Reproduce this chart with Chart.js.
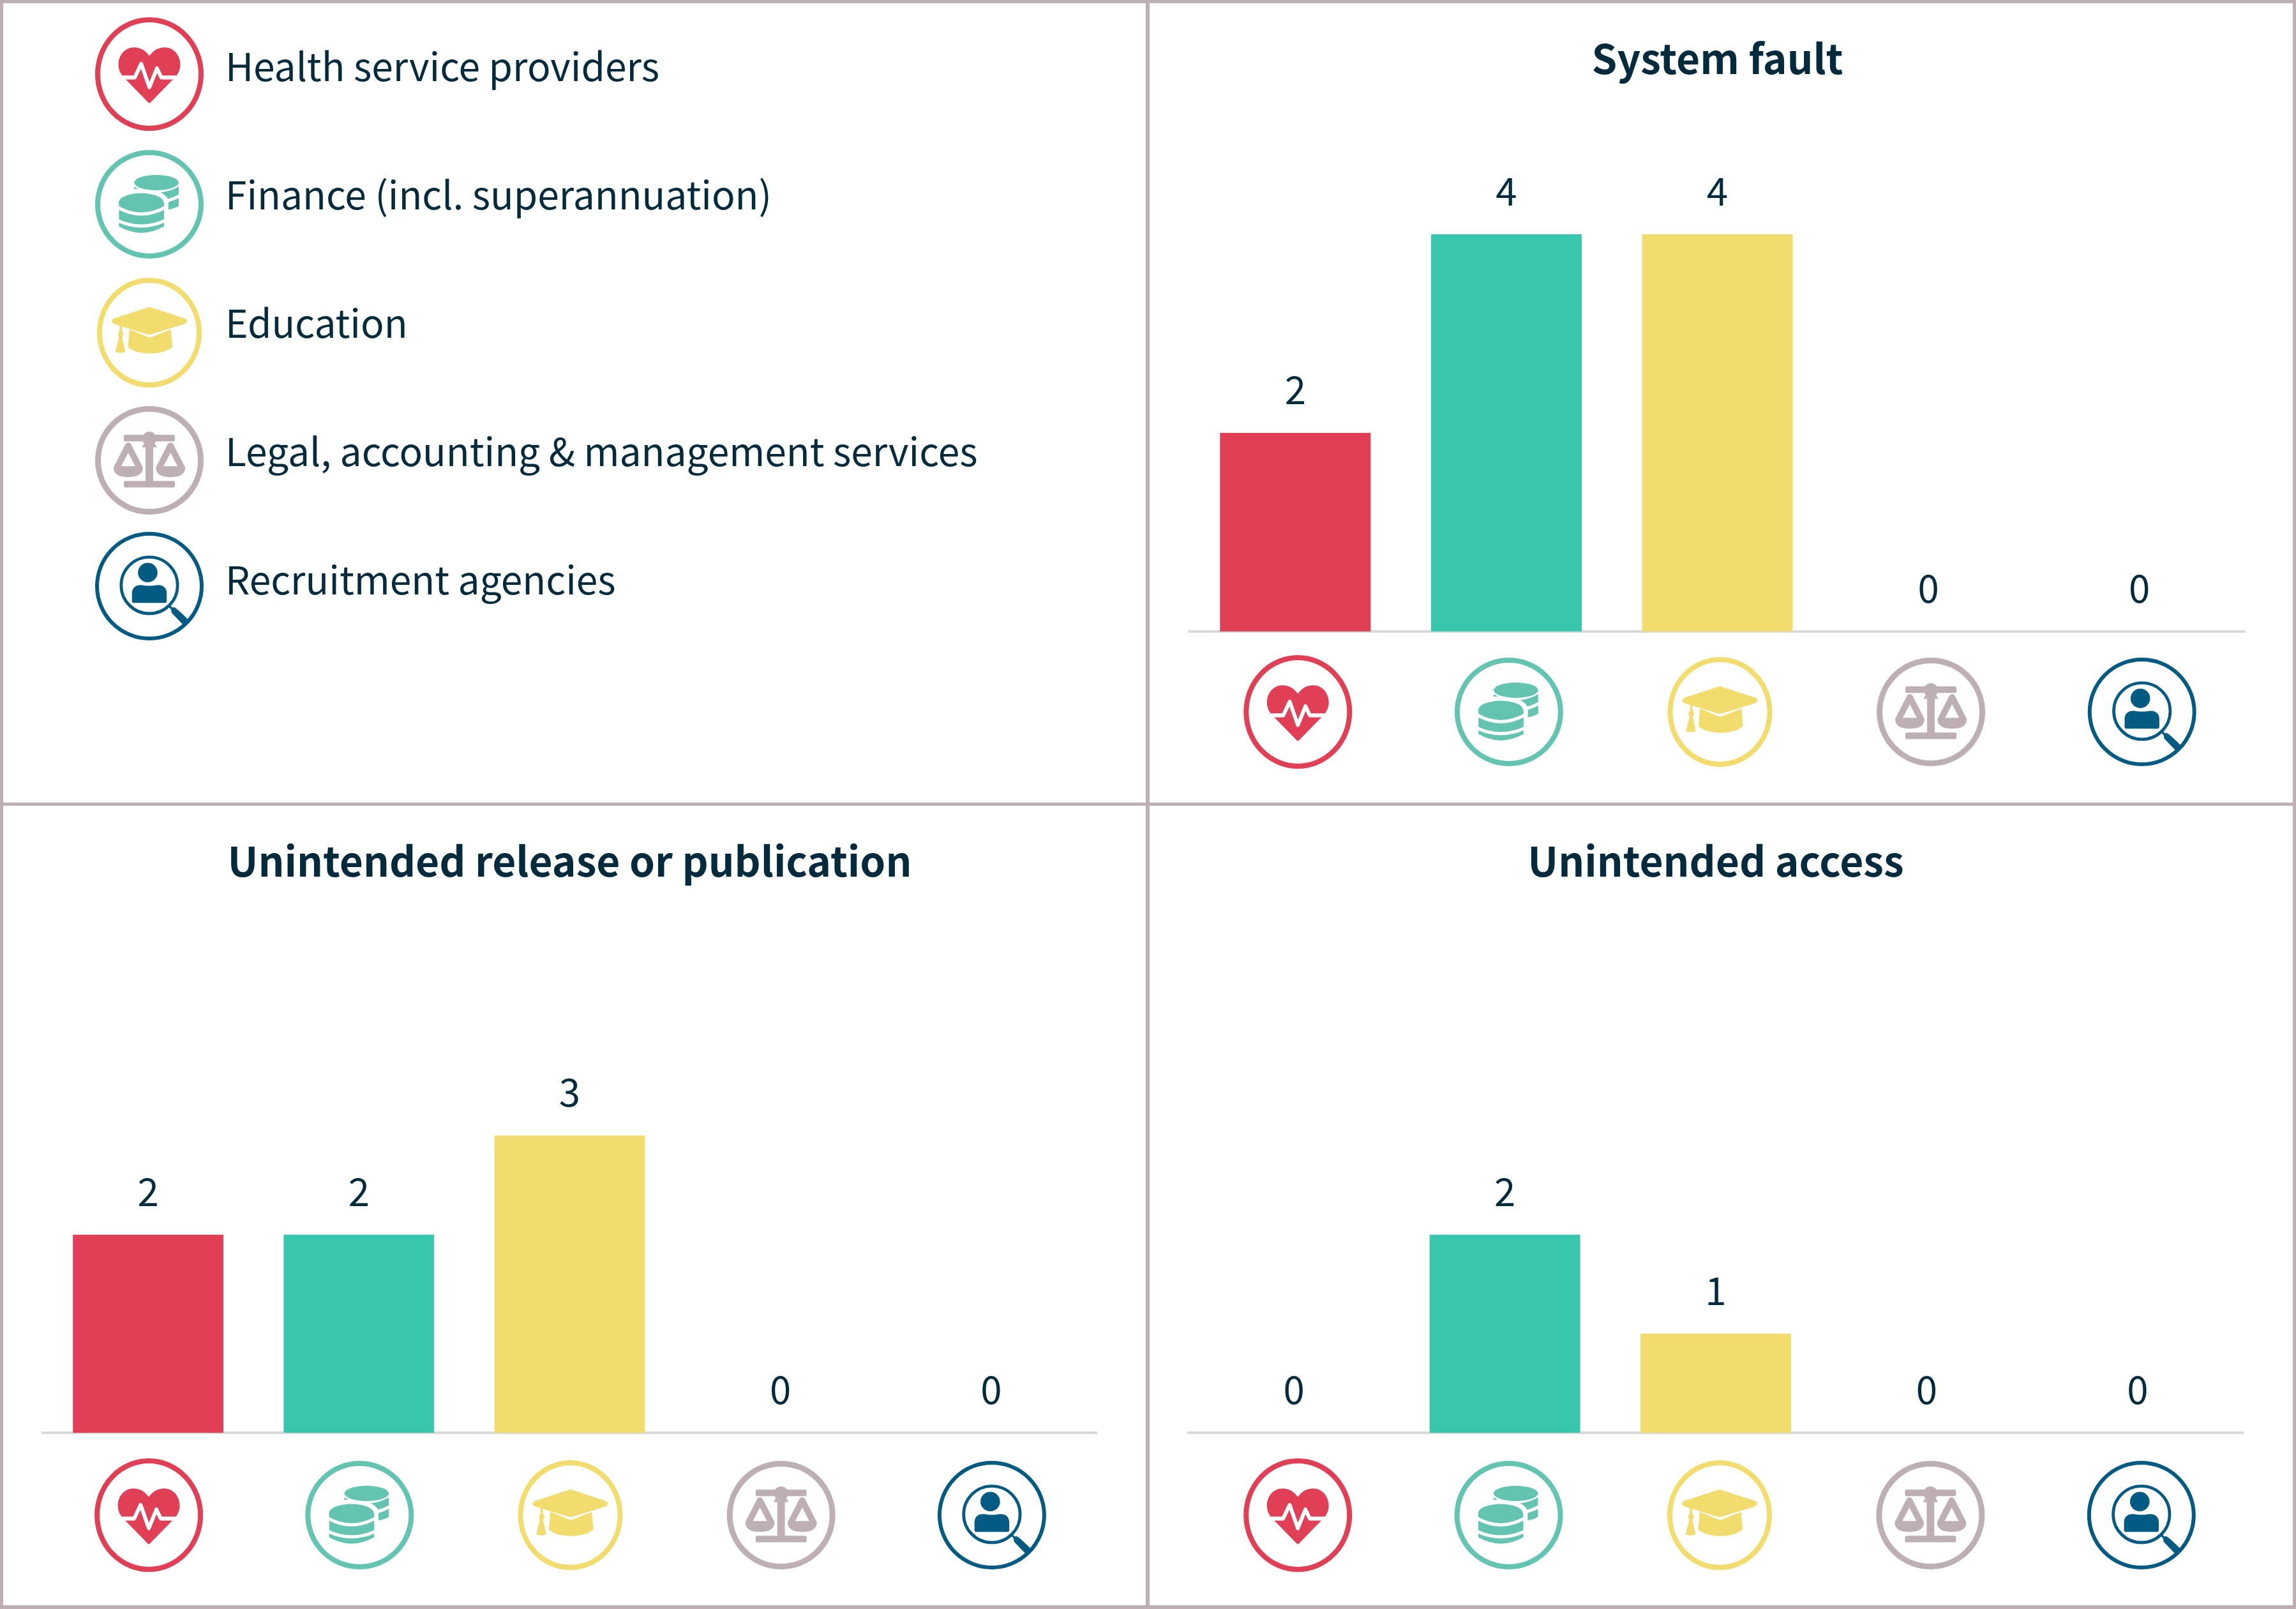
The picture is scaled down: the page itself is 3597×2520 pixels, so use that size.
<!DOCTYPE html>
<html>
<head>
<meta charset="utf-8">
<title>Breaches by sector</title>
<script src="https://cdn.jsdelivr.net/npm/chart.js@4"></script>
<style>
    html, body { margin: 0; padding: 0; background: #fff; }
    body { width: 3597px; height: 2520px; position: relative; overflow: hidden; }
    canvas { position: absolute; }
    .line { position: absolute; background: #BDAFB3; }
    .legendText {
        position: absolute;
        left: 353px;
        font: 400 60.5px "Noto Sans CJK SC", "Noto Sans", sans-serif;
        line-height: 80px;
        color: #032B3D;
        white-space: nowrap;
    }
</style>
</head>
<body>

<canvas id="legendIcons" width="800" height="1040" style="left:0;top:0"></canvas>
<canvas id="chartFault" width="1796" height="1258" style="left:1801px;top:0"></canvas>
<canvas id="chartRelease" width="1796" height="1258" style="left:0;top:1262px"></canvas>
<canvas id="chartAccess" width="1796" height="1258" style="left:1801px;top:1262px"></canvas>

<div class="line" style="left:0;top:0;width:3597px;height:5px"></div>
<div class="line" style="left:0;bottom:0;width:3597px;height:6px"></div>
<div class="line" style="left:0;top:0;width:5px;height:2520px"></div>
<div class="line" style="right:0;top:0;width:5px;height:2520px"></div>
<div class="line" style="left:1795px;top:0;width:6px;height:2520px"></div>
<div class="line" style="left:0;top:1257px;width:3597px;height:5px"></div>

<script>
// data
const categories = ["Health service providers", "Finance (incl. superannuation)", "Education", "Legal, accounting & management services", "Recruitment agencies"];
const systemFault = [2, 4, 4, 0, 0];
const unintendedRelease = [2, 2, 3, 0, 0];
const unintendedAccess = [0, 2, 1, 0, 0];
const barColours = ["#E03F55", "#38C6AC", "#F2DC6E", "#BDAFB3", "#035A82"];
const iconColours = ["#E03F55", "#63C4B2", "#F2DC6E", "#BDAFB3", "#035A82"];

const FONT = '"Noto Sans CJK SC", "Noto Sans", sans-serif';
const TEXT = "#032B3D";

// ikonene, tegnet i en boks der radius = 100
function heartIcon(ctx, col) {
    ctx.fillStyle = col;
    ctx.fill(new Path2D("M0,-32 C-8,-43 -18,-47 -28,-47 C-46,-47 -57,-32 -57,-17 C-57,-8 -54,-3 -50,3 L-2,50 Q0,52 2,50 L50,3 C54,-3 57,-8 57,-17 C57,-32 46,-47 28,-47 C18,-47 8,-43 0,-32 Z"));
    ctx.strokeStyle = "#fff";
    ctx.lineWidth = 7;
    ctx.lineJoin = "round";
    ctx.stroke(new Path2D("M-62,6 L-27,6 L-15,-18 L0,23 L14,-10 L22,6 L62,6"));
}

function coinsIcon(ctx, col) {
    ctx.fillStyle = col;
    ctx.strokeStyle = "#fff";
    ctx.lineWidth = 6;
    // bakre stabel
    ctx.fill(new Path2D("M-28,-40 L-28,0 L33,10 Q48,8 54,3 L54,-40 Z"));
    ctx.stroke(new Path2D("M-30,-37 Q13,-12 56,-37"));
    ctx.stroke(new Path2D("M-30,-16 Q13,8 56,-16"));
    ctx.fillStyle = "#fff";
    ctx.fill(new Path2D("M-64,-5 A49,24 0 0 1 35,-5 L35,60 L-64,60 Z"));
    ctx.fillStyle = col;
    ctx.beginPath();
    ctx.ellipse(13, -40, 41, 14, 0, 0, Math.PI * 2);
    ctx.fill();
    // fremre stabel
    ctx.fill(new Path2D("M-56,-3 L-56,41 Q-15,64 27,41 L27,-3 Z"));
    ctx.stroke(new Path2D("M-58,6 Q-15,30 29,6"));
    ctx.stroke(new Path2D("M-58,30 Q-15,50 29,30"));
    ctx.beginPath();
    ctx.ellipse(-15, -3.5, 41.5, 17, 0, 0, Math.PI * 2);
    ctx.fill();
}

function capIcon(ctx, col) {
    ctx.fillStyle = col;
    ctx.fill(new Path2D("M-3,-46 Q0,-47 3,-46 L68,-26 Q76,-21 68,-16 L4,3 Q0,4 -4,3 L-68,-16 Q-76,-21 -68,-26 Z"));
    ctx.fill(new Path2D("M-38,-6 L-2,8 Q1,9 4,8 L41,-6 L44,26 Q30,38 2,38 Q-28,38 -41,26 Z"));
    ctx.fill(new Path2D("M-57,-14 L-53,-14 L-52,-3 Q-47,3 -52,9 L-46,35 Q-55,39 -65,35 L-58,9 Q-62,3 -57,-3 Z"));
}

function scaleIcon(ctx, col) {
    ctx.fillStyle = col;
    ctx.fill(new Path2D("M-44,-47 L44,-47 Q47,-47 47,-44 L47,-38 Q47,-35 44,-35 L-44,-35 Q-47,-35 -47,-38 L-47,-44 Q-47,-47 -44,-47 Z"));
    ctx.fill(new Path2D("M-44,38 L44,38 Q47,38 47,41 L47,47 Q47,50 44,50 L-44,50 Q-47,50 -47,47 L-47,41 Q-47,38 -44,38 Z"));
    ctx.fill(new Path2D("M-7,-26 L7,-26 L7,40 L-7,40 Z"));
    ctx.beginPath();
    ctx.arc(0, -40, 13, 0, Math.PI * 2);
    ctx.fill();
    ctx.fill(new Path2D("M0,-46 L14,-24 L-14,-24 Z"));
    [-39, 39].forEach(function (x) {
        ctx.fillStyle = col;
        ctx.fill(new Path2D("M" + (x - 5) + ",-30 Q" + x + ",-36 " + (x + 5) + ",-30 L" + (x + 27) + ",13 Q" + (x + 27) + ",31 " + x + ",31 Q" + (x - 27) + ",31 " + (x - 27) + ",13 Z"));
        ctx.fillStyle = "#fff";
        ctx.fill(new Path2D("M" + x + ",-14 L" + (x + 13) + ",11 L" + (x - 13) + ",11 Z"));
    });
}

function searchIcon(ctx, col) {
    ctx.fillStyle = col;
    ctx.strokeStyle = col;
    ctx.lineWidth = 5.5;
    ctx.beginPath();
    ctx.arc(0, -1.5, 52, 0, Math.PI * 2);
    ctx.stroke();
    ctx.beginPath();
    ctx.ellipse(-3, -25, 18, 18, 0, 0, Math.PI * 2);
    ctx.fill();
    ctx.fill(new Path2D("M-32,27 L-32,14 Q-32,-2 -15,-2 Q0,1 15,-2 Q32,-2 32,14 L32,27 Q32,31 28,31 L-28,31 Q-32,31 -32,27 Z"));
    ctx.lineWidth = 4;
    ctx.stroke(new Path2D("M35,35 L43,43"));
    ctx.fill(new Path2D("M40,42 Q42,38 46,39 Q50,40 73,63 L63,72 L41,49 Z"));
}

const iconDrawers = [heartIcon, coinsIcon, capIcon, scaleIcon, searchIcon];
// [rx, ry, ringbredde]
const iconSizes = [[85, 89, 8], [85, 85, 8], [82, 86, 8], [85, 85, 9], [85, 85, 6]];

function drawIcon(ctx, index, cx, cy) {
    let size = iconSizes[index];
    let col = iconColours[index];
    ctx.save();
    ctx.strokeStyle = col;
    ctx.lineWidth = size[2];
    ctx.beginPath();
    ctx.ellipse(cx, cy, size[0] - size[2] / 2, size[1] - size[2] / 2, 0, 0, Math.PI * 2);
    ctx.stroke();
    ctx.translate(cx, cy);
    ctx.scale(size[0] / 100, size[1] / 100);
    iconDrawers[index](ctx, col);
    ctx.restore();
}

// verditall over stolpene og ikoner under aksen
const barExtras = {
    id: "barExtras",
    afterDatasetsDraw(chart, args, opts) {
        let ctx = chart.ctx;
        let x = chart.scales.x;
        let y = chart.scales.y;
        let values = chart.data.datasets[0].data;
        ctx.save();
        ctx.font = "400 60px " + FONT;
        ctx.fillStyle = TEXT;
        ctx.textAlign = "center";
        ctx.textBaseline = "alphabetic";
        values.forEach(function (v, i) {
            ctx.fillText(String(v), x.getPixelForValue(i), y.getPixelForValue(v) - 45);
        });
        ctx.restore();
        values.forEach(function (v, i) {
            drawIcon(ctx, i, x.getPixelForValue(i) + opts.iconShift, y.bottom + opts.iconDrop);
        });
    }
};

function makeChart(id, title, values, padding, titlePadding, iconShift, iconDrop) {
    return new Chart(document.getElementById(id), {
        type: "bar",
        plugins: [barExtras],
        data: {
            labels: categories,
            datasets: [{
                data: values,
                backgroundColor: barColours,
                barPercentage: 0.714,
                categoryPercentage: 1
            }]
        },
        options: {
            responsive: false,
            animation: false,
            devicePixelRatio: 1,
            layout: { padding: padding },
            scales: {
                x: {
                    grid: { display: false, drawTicks: false },
                    ticks: { display: false },
                    border: { color: "#D9D9D9", width: 4 }
                },
                y: { display: false, min: 0, max: 5 }
            },
            plugins: {
                legend: { display: false },
                tooltip: { enabled: false },
                title: {
                    display: true,
                    text: title,
                    color: TEXT,
                    font: { family: FONT, size: 64, weight: "700", lineHeight: 1.2 },
                    padding: titlePadding
                },
                barExtras: { iconShift: iconShift, iconDrop: iconDrop }
            }
        }
    });
}

makeChart("chartFault", "System fault", systemFault, { left: 63, right: 80, top: 0, bottom: 269 }, { top: 53, bottom: 81.8 }, 4, 126);
makeChart("chartRelease", "Unintended release or publication", unintendedRelease, { left: 67, right: 78, top: 0, bottom: 276 }, { top: 47.9, bottom: 81.4 }, 1, 129);
makeChart("chartAccess", "Unintended access", unintendedAccess, { left: 61, right: 83, top: 0, bottom: 276 }, { top: 47.9, bottom: 81.4 }, 6, 129);

// forklaring oppe til venstre
const legendCentres = [116, 320, 521, 721, 918];
const legendBaselines = [127, 328, 529, 730, 931];
let legendCtx = document.getElementById("legendIcons").getContext("2d");
categories.forEach(function (name, i) {
    drawIcon(legendCtx, i, 234, legendCentres[i]);
    let div = document.createElement("div");
    div.className = "legendText";
    div.textContent = name;
    div.style.top = (legendBaselines[i] - 66.4) + "px";
    document.body.appendChild(div);
});
</script>
</body>
</html>
